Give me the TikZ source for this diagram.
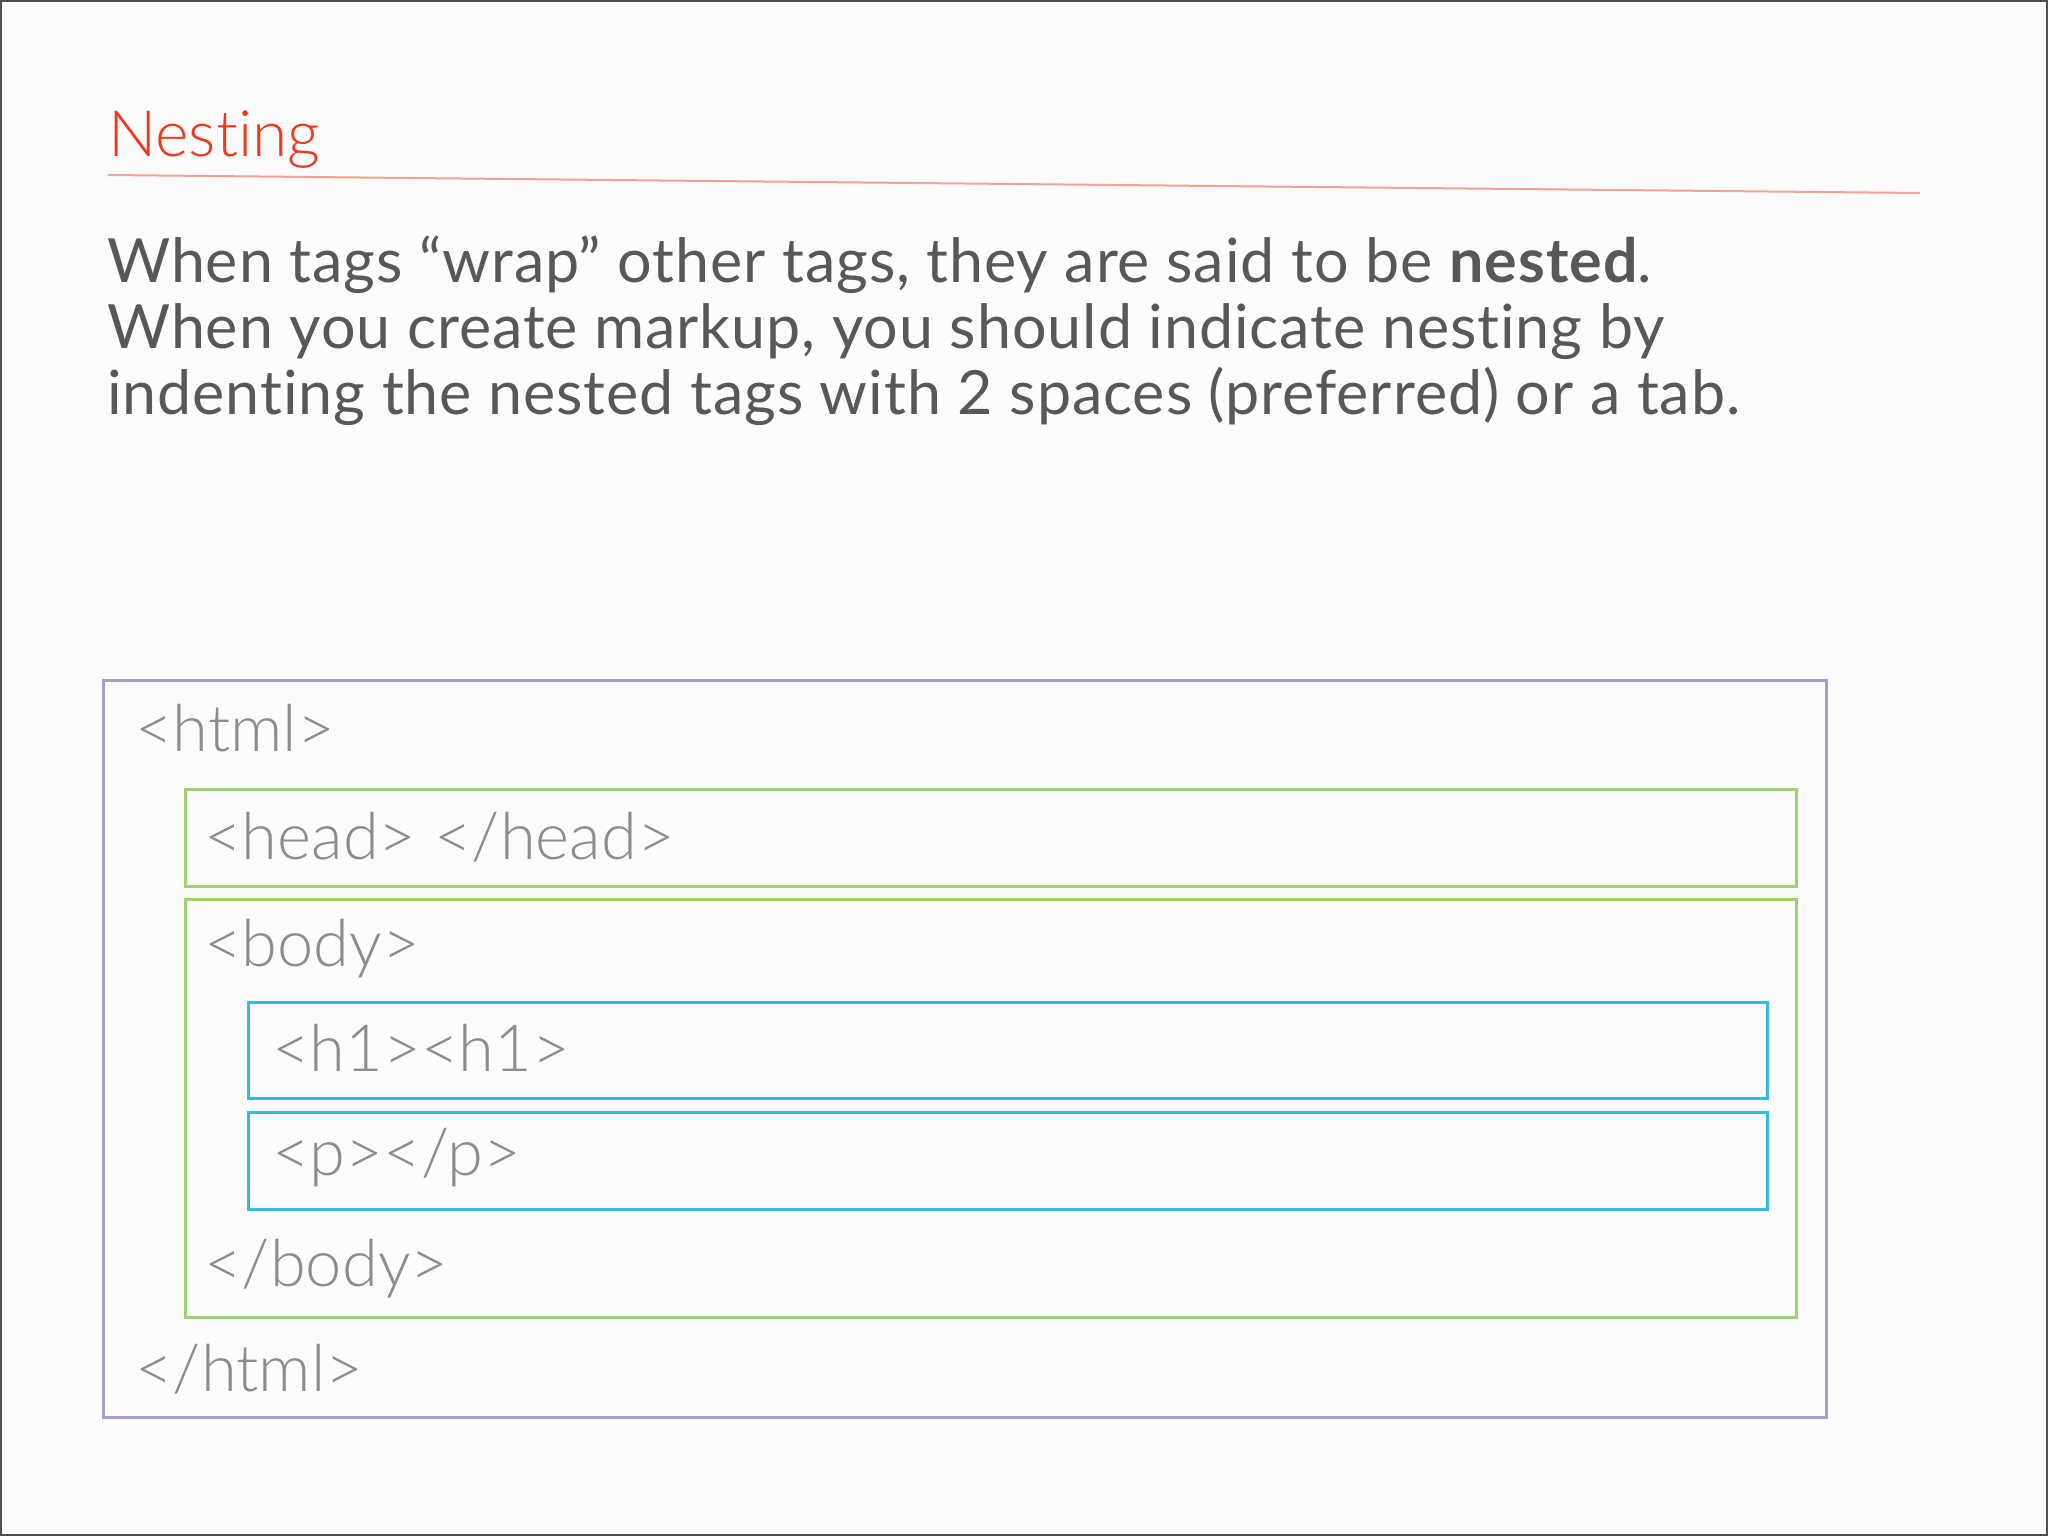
\documentclass[tikz,border=0pt]{standalone}
\usepackage{fontspec}
\setmainfont{Lato}[Ligatures=NoCommon]
\newfontfamily\lightfont{Lato Light}[Ligatures=NoCommon]
\newfontfamily\bodyfont{Lato}[Ligatures=NoCommon, LetterSpace=1.5]
\definecolor{titlered}{HTML}{F2381C}
\definecolor{rulered}{HTML}{F5A193}
\definecolor{bodygray}{HTML}{58585A}
\definecolor{taggray}{HTML}{8C8C8C}
\definecolor{htmlpurple}{HTML}{A99BD0}
\definecolor{headgreen}{HTML}{9DD36C}
\definecolor{h1blue}{HTML}{33BBE8}
\definecolor{pagebg}{HTML}{FCFCFC}
\definecolor{frame}{HTML}{505050}
\tikzset{
  tagbox/.style={line width=3pt},
  tagtext/.style={anchor=base west, inner sep=0pt, text=taggray, font=\lightfont\fontsize{65}{70}\selectfont},
  bodytext/.style={anchor=base west, inner sep=0pt, text=bodygray, font=\bodyfont\fontsize{61}{66}\selectfont},
}
\begin{document}
\begin{tikzpicture}[x=1pt,y=-1pt]
\useasboundingbox (0,0) rectangle (2048,1536);
\fill[pagebg] (0,0) rectangle (2048,1536);
\draw[frame, line width=2pt] (1,1) rectangle (2047,1535);
% title
\node[anchor=base west, inner sep=0pt, text=titlered, font=\lightfont\fontsize{64}{70}\selectfont] (title) at (108,157) {Nesting};
\coordinate (ruleL) at (108,175);
\coordinate (ruleR) at (1920,193);
\draw[rulered, line width=2pt] (ruleL) -- (ruleR);
% body text
\node[bodytext] (l1) at (107,282) {When tags “wrap” other tags, they are said to be \textbf{nested}.};
\node[bodytext] (l2) at (107,348) {When you create markup, you should indicate nesting by};
\node[bodytext] (l3) at (107,414) {indenting the nested tags with 2 spaces (preferred) or a tab.};
% boxes
\draw[tagbox, htmlpurple] (103,680) rectangle (1826,1417);
\draw[tagbox, headgreen] (185,789) rectangle (1796,886);
\draw[tagbox, headgreen] (185,899) rectangle (1796,1317);
\draw[tagbox, h1blue] (248,1002) rectangle (1767,1098);
\draw[tagbox, h1blue] (248,1112) rectangle (1767,1209);
% tag texts
\node[tagtext] (html) at (135,751) {<html>};
\node[tagtext] (head) at (204,859) {<head> </head>};
\node[tagtext] (body) at (204,966) {<body>};
\node[tagtext] (h1) at (272,1071) {<h1><h1>};
\node[tagtext] (p) at (272,1175) {<p></p>};
\node[tagtext] (cbody) at (204,1286) {</body>};
\node[tagtext] (chtml) at (135,1391) {</html>};
\end{tikzpicture}
\end{document}
